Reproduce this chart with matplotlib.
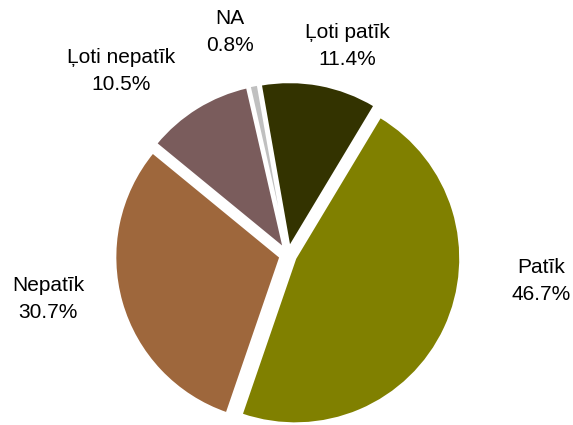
import matplotlib
matplotlib.use("Agg")
import matplotlib.pyplot as plt

categories = ["Ļoti patīk", "Patīk", "Nepatīk", "Ļoti nepatīk", "NA"]
values = [11.4, 46.7, 30.7, 10.5, 0.8]
pct_labels = ["11.4%", "46.7%", "30.7%", "10.5%", "0.8%"]
colors = ["#333300", "#808000", "#9E673C", "#7A5C5C", "#C0C0C0"]

# label anchor positions in pixel space (x, y from top)
label_pos = [(347, 46), (541, 281), (48, 299), (121, 71), (230, 32)]

W, H = 573, 425
R = 165
fig = plt.figure(figsize=(W / 100, H / 100), dpi=100)
ax = fig.add_axes([0, 0, 1, 1])

# explode is in absolute data units in matplotlib
ax.pie(values, colors=colors, startangle=100, counterclock=False,
       center=(288, H - 255), radius=R, explode=[8] * len(values),
       wedgeprops=dict(edgecolor="white", linewidth=1.5), frame=False)
ax.set_xlim(0, W)
ax.set_ylim(0, H)
ax.set_aspect("equal")
ax.axis("off")

for cat, pct, (x, y) in zip(categories, pct_labels, label_pos):
    ax.text(x, H - y, f"{cat}\n{pct}", ha="center", va="center",
            fontsize=15, family=["Liberation Sans", "DejaVu Sans"],
            linespacing=1.5, color="black")

fig.savefig("out.png", dpi=100)
